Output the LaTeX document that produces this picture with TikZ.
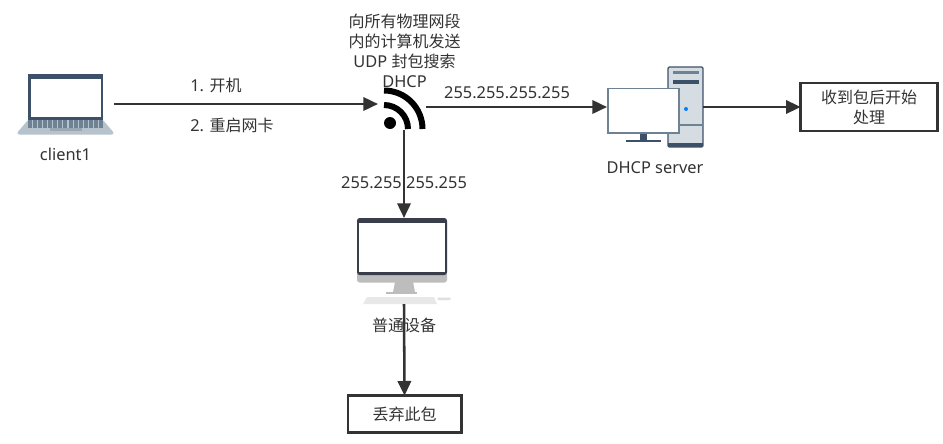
\documentclass[tikz,border=0pt]{standalone}
\usepackage{fontspec}
\setmainfont[Scale=1.025]{Noto Sans}
\newfontfamily\cjk{Noto Sans CJK SC}
\usetikzlibrary{positioning,arrows.meta}
\definecolor{inkgray}{HTML}{333333}
\definecolor{slatedark}{HTML}{3C5068}
\definecolor{slatemid}{HTML}{6E8294}
\definecolor{slatelight}{HTML}{B6C3CC}
\definecolor{towergray}{HTML}{D5DCE2}
\definecolor{imacdark}{HTML}{3A3D4A}
\definecolor{imacgray}{HTML}{BDBDBD}
\tikzset{
    label text/.style={text=inkgray, font=\fontsize{12pt}{15pt}\selectfont, inner sep=0pt, align=center},
    icon/.style={inner sep=0pt, outer sep=0pt},
    box/.style={draw=inkgray, line width=2pt, fill=white, inner sep=0pt, outer sep=0pt, align=center, text=inkgray, font=\fontsize{12pt}{15pt}\selectfont},
    link/.style={draw=inkgray, line width=1.9pt, -{Triangle[length=11pt,width=10pt]}}
}
\begin{document}
\begin{tikzpicture}[x=0.75pt,y=-0.75pt]
    \useasboundingbox (0,0) rectangle (943,443);
    \fill[white] (0,0) rectangle (943,443);

    % icon places
    \node [icon, minimum width=72.75pt, minimum height=45pt] (laptop) at (65.5,104) {};
    \node [icon, minimum width=36pt, minimum height=34.5pt] (wifi) at (402,107) {};
    \node [icon, minimum width=72pt, minimum height=60pt] (server) at (655,107) {};
    \node [icon, minimum width=70.5pt, minimum height=64.5pt] (device) at (404,261) {};

    % labels
    \node [label text, below=10pt of laptop] (clientlabel) {client1};
    \node [label text, below=10.5pt of server] (serverlabel) {DHCP server};
    \node [label text, below=10pt of device] (devicelabel) {\cjk 普通设备};
    \node [label text] (search) at (404.5,50.5) {{\cjk 向所有物理网段}\\{\cjk 内的计算机发送}\\UDP {\cjk 封包搜索}\\DHCP};
    \node [label text, anchor=west] (boot) at (190,85) {1. {\cjk 开机}};
    \node [label text, anchor=west] (restart) at (190,125) {2. {\cjk 重启网卡}};
    \node [label text] (ipright) at (507,93) {255.255.255.255};
    \node [label text] (ipdown) at (404,183) {255.255.255.255};

    % boxes
    \node [box, minimum width=102.5pt, minimum height=36pt] (start) at (869,107) {{\cjk 收到包后开始}\\{\cjk 处理}};
    \node [box, minimum width=85pt, minimum height=27.5pt] (drop) at (404.5,414) {\cjk 丢弃此包};

    % laptop
    \fill[slatelight, rounded corners=1pt] (28,120) -- (103,120) -- (114,133) -- (113,134.5) -- (18,134.5) -- (17,133) -- cycle;
    \fill[slatedark] (28,74) rectangle (103,120);
    \fill[white] (30.5,79) rectangle (100.5,117);
    \foreach \row in {121.5,124.5,127}
        \draw[slatemid, line width=1.6pt, dash pattern=on 3pt off 0.8pt] (28,\row) -- (103,\row);
    \fill[slatemid!70!white] (50,128) rectangle (82,131);

    % wifi sign
    \fill[black] (390,123) circle (6);
    \draw[black, line width=4.5pt] (384,105) arc[start angle=270, end angle=360, radius=24];
    \draw[black, line width=4.5pt] (384,90.5) arc[start angle=270, end angle=360, radius=38.5];

    % server tower
    \fill[towergray] (668,67) rectangle (703,147);
    \draw[slatedark, line width=0.9pt, rounded corners=1pt] (668,67) rectangle (703,147);
    \fill[slatedark] (668,143) rectangle (703,147);
    \draw[slatemid, line width=0.8pt] (668,125) -- (703,125);
    \fill[slatemid] (673,71) rectangle (699,74);
    \fill[slatedark] (673,80) rectangle (699,84);
    \fill[blue!50!cyan] (686,109) circle (2);

    % server monitor
    \fill[slatedark] (640,133) rectangle (647,140);
    \fill[slatedark] (626,139.5) rectangle (661,141.5);
    \draw[slatemid, fill=white, line width=0.9pt] (608,88.5) rectangle (679,133);

    % desktop computer
    \fill[imacgray] (395,282) -- (413,282) -- (415,292) -- (393,292) -- cycle;
    \fill[imacgray] (386,292) rectangle (417,294);
    \fill[imacgray, rounded corners=2pt] (357,272) rectangle (447,282.5);
    \fill[imacdark, rounded corners=2pt] (357,218) rectangle (447,275);
    \fill[white] (359,223) rectangle (445,272);
    \fill[gray!18] (367,297) -- (434,297) -- (437,304) -- (363,304) -- cycle;
    \fill[gray!25, rounded corners=1pt] (437,297.5) rectangle (451,300);

    % connections
    \draw [link] (laptop.east) -- (laptop.east -| wifi.west);
    \draw [link] (wifi.east) -- (server.west);
    \draw [link] (server.east) -- (start.west);
    \draw [link] (wifi.south -| device.north) -- (device.north);
    \draw [link] (device.south) -- (drop.north);
\end{tikzpicture}
\end{document}
